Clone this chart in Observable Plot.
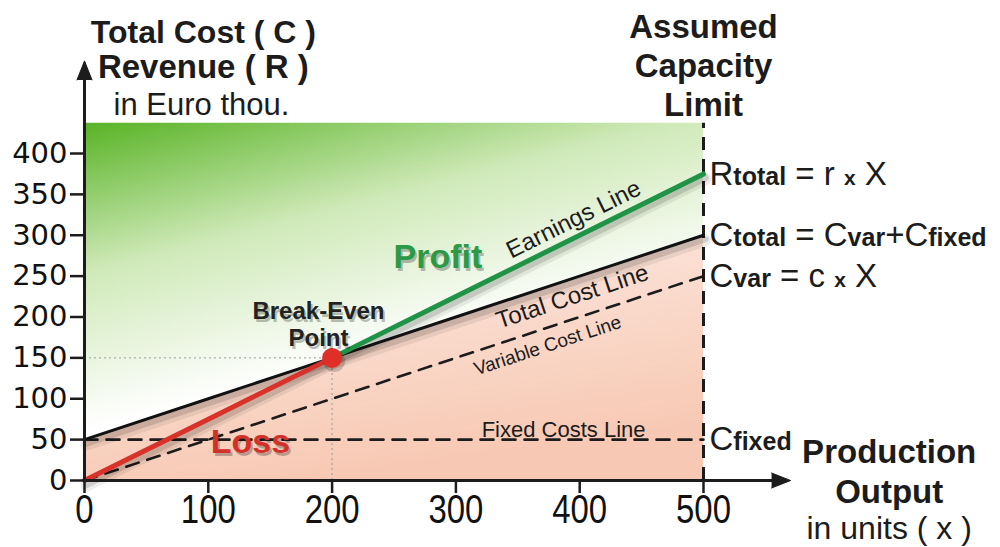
<!DOCTYPE html>
<html><head><meta charset="utf-8">
<script src="https://cdn.jsdelivr.net/npm/d3@7"></script>
<script src="https://cdn.jsdelivr.net/npm/@observablehq/plot@0.6"></script>
<style>body{margin:0;background:#fff;overflow:hidden}</style>
</head><body><div id="chart"></div>
<script>
// ---- data ----
const output = [0, 100, 200, 300, 400, 500];          // production output (units)
const revenue = [0, 75, 150, 225, 300, 375];          // R total = r x X
const totalCost = [50, 100, 150, 200, 250, 300];      // C total = C var + C fixed
const variableCost = [0, 50, 100, 150, 200, 250];     // C var = c x X
const fixedCost = [50, 50, 50, 50, 50, 50];           // C fixed
const breakEvenOutput = 200;
const breakEvenValue = 150;
const capacityLimit = 500;
const xTicks = [0, 100, 200, 300, 400, 500];
const yTicks = [0, 50, 100, 150, 200, 250, 300, 350, 400];

const rows = output.map((x, i) => ({x, revenue: revenue[i], total: totalCost[i], variable: variableCost[i], fixed: fixedCost[i]}));

// ---- layout ----
const W = 1000, H = 547, ML = 84, MR = 297, MT = 153, MB = 67;
const kx = (W - ML - MR) / 500, ky = (H - MT - MB) / 400;
const n = output.length - 1;
const slope = a => (a[n] - a[0]) / (output[n] - output[0]);
const ang = a => -Math.atan(slope(a) * ky / kx) * 180 / Math.PI;
const at = (a, x) => a[0] + slope(a) * x;
const yTop = 437;
const F = "Liberation Sans, Arial, sans-serif";
const ink = "#1c1c1c";
const red = "#d8332a", green = "#1f9447";

const label = (t, o) => Plot.text([t], {text: d => d, fontFamily: F, fill: ink, ...o});
const shadowLabel = (t, o, col) => [
  label(t, {...o, fill: "#000", fillOpacity: 0.25, dx: (o.dx || 0) + 2, dy: (o.dy || 0) + 3}),
  label(t, {...o, fill: col})
];

const formulas = [
  {y: revenue[n], parts: [["R", "m"], ["total", "s"], [" = r ", "m"], ["x", "x"], [" X", "m"]]},
  {y: totalCost[n], parts: [["C", "m"], ["total", "s"], [" = C", "m"], ["var", "s"], ["+C", "m"], ["fixed", "s"]]},
  {y: variableCost[n], parts: [["C", "m"], ["var", "s"], [" = c ", "m"], ["x", "x"], [" X", "m"]]},
  {y: fixedCost[n], parts: [["C", "m"], ["fixed", "s"]]}
];
formulas.forEach(f => f.text = f.parts.map(p => p[0]).join(""));

const redRows = rows.filter(d => d.x <= breakEvenOutput);
const greenRows = rows.filter(d => d.x >= breakEvenOutput);

const svg = Plot.plot({
  width: W, height: H,
  marginLeft: ML, marginRight: MR, marginTop: MT, marginBottom: MB,
  x: {domain: [0, 500], axis: null},
  y: {domain: [0, 400], axis: null},
  style: {background: "#fff", overflow: "visible", fontFamily: F},
  marks: [
    // background regions
    Plot.areaY(rows, {x: "x", y1: "total", y2: () => yTop, fill: "url(#gGreen)"}),
    Plot.areaY(rows, {x: "x", y1: () => 0, y2: "total", fill: "url(#gPink)"}),
    // guides to the break-even point
    Plot.ruleY([breakEvenValue], {x1: 0, x2: breakEvenOutput, stroke: "#9a9a9a", strokeWidth: 1, strokeDasharray: "2,3"}),
    Plot.ruleX([breakEvenOutput], {y1: 0, y2: breakEvenValue, stroke: "#9a9a9a", strokeWidth: 1, strokeDasharray: "2,3"}),
    // capacity limit
    Plot.ruleX([capacityLimit], {y1: 0, y2: yTop, stroke: ink, strokeWidth: 3, strokeDasharray: "13,9"}),
    // dashed cost lines
    Plot.line(rows, {x: "x", y: "fixed", stroke: ink, strokeWidth: 2.6, strokeDasharray: "13,9"}),
    Plot.line(rows, {x: "x", y: "variable", stroke: ink, strokeWidth: 2.6, strokeDasharray: "13,9"}),
    // shadows
    Plot.line(rows, {x: "x", y: "total", stroke: "#000", strokeOpacity: 0.07, strokeWidth: 12, dx: 2, dy: 5}),
    Plot.line(rows, {x: "x", y: "total", stroke: "#000", strokeOpacity: 0.13, strokeWidth: 6, dx: 2, dy: 4}),
    Plot.line(rows, {x: "x", y: "revenue", stroke: "#000", strokeOpacity: 0.07, strokeWidth: 12, dx: 2, dy: 5}),
    Plot.line(rows, {x: "x", y: "revenue", stroke: "#000", strokeOpacity: 0.13, strokeWidth: 7, dx: 2, dy: 4}),
    // total cost line
    Plot.line(rows, {x: "x", y: "total", stroke: "#111", strokeWidth: 3}),
    // revenue line: loss part and profit part
    Plot.line(redRows, {x: "x", y: "revenue", stroke: red, strokeWidth: 5}),
    Plot.line(greenRows, {x: "x", y: "revenue", stroke: green, strokeWidth: 5}),
    // break-even point
    Plot.dot([0], {x: () => breakEvenOutput, y: () => breakEvenValue, r: 11, fill: "#000", fillOpacity: 0.18, dx: 2, dy: 3}),
    Plot.dot([0], {x: () => breakEvenOutput, y: () => breakEvenValue, r: 10, fill: "#e02f27"}),
    // axes
    Plot.ruleX([0], {y1: 0, y2: 492, stroke: ink, strokeWidth: 3}),
    Plot.ruleY([0], {x1: 0, x2: 556, stroke: ink, strokeWidth: 3}),
    Plot.vector([0], {x: () => 0, y: () => 490, length: 19, r: 7.5, shape: "spike", anchor: "start", rotate: 0, fill: ink, stroke: ink, strokeWidth: 1}),
    Plot.vector([0], {x: () => 555, y: () => 0, length: 19, r: 7.5, shape: "spike", anchor: "start", rotate: 90, fill: ink, stroke: ink, strokeWidth: 1}),
    Plot.ruleY(yTicks, {y: d => d, x1: () => 0, x2: () => 0, insetLeft: -14, insetRight: 0, stroke: ink, strokeWidth: 2.5}),
    Plot.ruleX(xTicks, {x: d => d, y1: () => 0, y2: () => 0, insetTop: 0, insetBottom: -13, stroke: ink, strokeWidth: 2.5}),
    Plot.text(yTicks, {x: () => 0, y: d => d, text: d => String(d), dx: -17, textAnchor: "end", fontSize: 29, fontFamily: "DejaVu Sans, sans-serif", fill: "#111"}),
    Plot.text(xTicks, {x: d => d, y: () => 0, text: d => String(d), dy: 30, fontSize: 40, fontFamily: F, fill: "#111", ariaLabel: "xtick"}),
    // axis titles
    label("Total Cost ( C )", {x: 96, y: 548, fontSize: 32, fontWeight: "bold"}),
    label("Revenue ( R )", {x: 96, y: 504.7, fontSize: 33, fontWeight: "bold"}),
    label("in Euro thou.", {x: 94.5, y: 458.7, fontSize: 31}),
    label("Assumed\nCapacity\nLimit", {x: capacityLimit, y: 508.4, fontSize: 33, fontWeight: "bold", lineHeight: 1.18}),
    label("Production", {x: 650, y: 33.8, fontSize: 33, fontWeight: "bold"}),
    label("Output", {x: 650, y: -14, fontSize: 33, fontWeight: "bold"}),
    label("in units ( x )", {x: 650, y: -58.5, fontSize: 32}),
    // line labels
    label("Earnings Line", {x: 395, y: at(revenue, 395), dy: -19, rotate: ang(revenue), fontSize: 24}),
    label("Total Cost Line", {x: 394, y: at(totalCost, 394), dy: 18, rotate: ang(totalCost), fontSize: 24}),
    label("Variable Cost Line", {x: 374, y: at(variableCost, 374), dy: 18, rotate: ang(variableCost), fontSize: 19}),
    label("Fixed Costs Line", {x: 387, y: fixedCost[0], dy: -10, fontSize: 22}),
    // regions
    ...shadowLabel("Loss", {x: 134, y: 47, fontSize: 34, fontWeight: "bold"}, "#d2312a"),
    ...shadowLabel("Profit", {x: 285.5, y: 272.8, fontSize: 34, fontWeight: "bold"}, "#2a9a46"),
    ...shadowLabel("Break-Even\nPoint", {x: 189, y: 192, fontSize: 24, fontWeight: "bold", lineHeight: 1.15}, "#222"),
    // formulas at the capacity limit
    Plot.text(formulas, {x: () => capacityLimit, y: "y", text: "text", dx: 6, textAnchor: "start", fontSize: 33, fontFamily: F, fill: ink})
  ]
});

// gradients
const defs = d3.select(svg).insert("defs", ":first-child");
const gg = defs.append("linearGradient").attr("id", "gGreen").attr("x1", 0).attr("y1", 0).attr("x2", 0.5).attr("y2", 1);
[[0, "#58b325"], [0.38, "#cfe9b8"], [0.78, "#ffffff"], [1, "#ffffff"]].forEach(([o, c]) => gg.append("stop").attr("offset", o).attr("stop-color", c));
const gp = defs.append("linearGradient").attr("id", "gPink").attr("x1", 0).attr("y1", 0).attr("x2", 0.35).attr("y2", 1);
[[0, "#fdece5"], [1, "#f7c9b4"]].forEach(([o, c]) => gp.append("stop").attr("offset", o).attr("stop-color", c));

// formula subscripts (mixed sizes within one text)
const norm = s => String(s).replace(/\s+/g, "");
const sizes = {m: 33, s: 25, x: 21};
d3.select(svg).selectAll("text").each(function () {
  const f = formulas.find(f => norm(f.text) === norm(this.textContent));
  if (!f) return;
  const t = d3.select(this);
  t.text(null);
  f.parts.forEach(([s, k]) => t.append("tspan").attr("font-size", sizes[k]).attr("font-weight", k === "m" ? "normal" : "bold").text(s));
});

// condensed x tick labels
let xt = d3.select(svg).selectAll('g[aria-label="xtick"] text');
if (xt.empty()) xt = d3.select(svg).selectAll('g[font-size="40"] text');
xt.each(function () {
  const len = this.textContent.length;
  d3.select(this).attr("textLength", len * 18.3).attr("lengthAdjust", "spacingAndGlyphs");
});

document.getElementById("chart").append(svg);
</script>
</body></html>
